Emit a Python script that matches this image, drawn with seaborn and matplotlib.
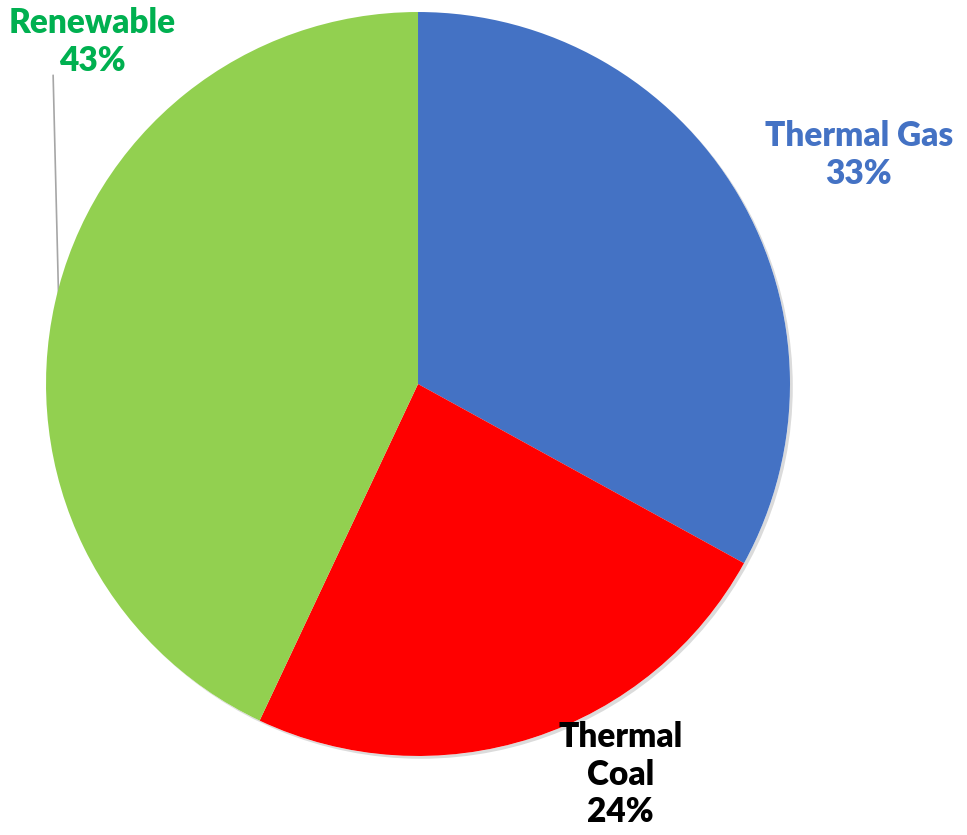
import numpy as np
import matplotlib
matplotlib.use("Agg")
import matplotlib.pyplot as plt
import matplotlib.patheffects as pe
from matplotlib.patches import Circle
import seaborn as sns

# --- data ---
categories = ["Thermal Gas", "Thermal Coal", "Renewable"]
shares = [33, 24, 43]
label_text = ["Thermal Gas\n33%", "Thermal\nCoal\n24%", "Renewable\n43%"]
slice_colors = ["#4472C4", "#FF0000", "#92D050"]
label_colors = ["#4472C4", "#000000", "#00B050"]

sns.set_theme(style="white")
plt.rcParams["font.family"] = ["Lato", "DejaVu Sans"]

fig = plt.figure(figsize=(9.67, 8.35), dpi=100)
ax = fig.add_axes([0, 0, 1, 1])

R, C = 1, (0, 0)
wedges, _ = ax.pie(shares, colors=slice_colors, startangle=90, counterclock=False,
                   radius=R, center=C, wedgeprops=dict(linewidth=0))

# soft shadow behind the whole pie
shadow = Circle(C, R, facecolor="white", edgecolor="none", zorder=0,
                path_effects=[pe.withSimplePatchShadow(offset=(2, -2), shadow_rgbFace="#888888", alpha=0.3),
                              pe.Normal()])
ax.add_patch(shadow)

# label placement (data units, pie radius = 1)
label_pos = [(1.185, 0.615), (0.545, -1.05), (-0.875, 0.92)]
for (x, y), txt, c in zip(label_pos, label_text, label_colors):
    ax.text(x, y, txt, ha="center", va="center", fontsize=24, fontweight="heavy",
            color=c, linespacing=1.22)

# leader line for Renewable, from wedge mid-angle to label
w = wedges[2]
mid = np.deg2rad((w.theta1 + w.theta2) / 2)
ex, ey = np.cos(mid), np.sin(mid)
ax.plot([ex + 0.01, ex - 0.005], [ey, 0.83], color="#A6A6A6", linewidth=1.2, zorder=0)

ax.set_xlim(-1.1237, 1.4758)
ax.set_ylim(-1.2124, 1.0323)
ax.set_aspect("equal")
ax.axis("off")

plt.savefig("out.png", dpi=100)
